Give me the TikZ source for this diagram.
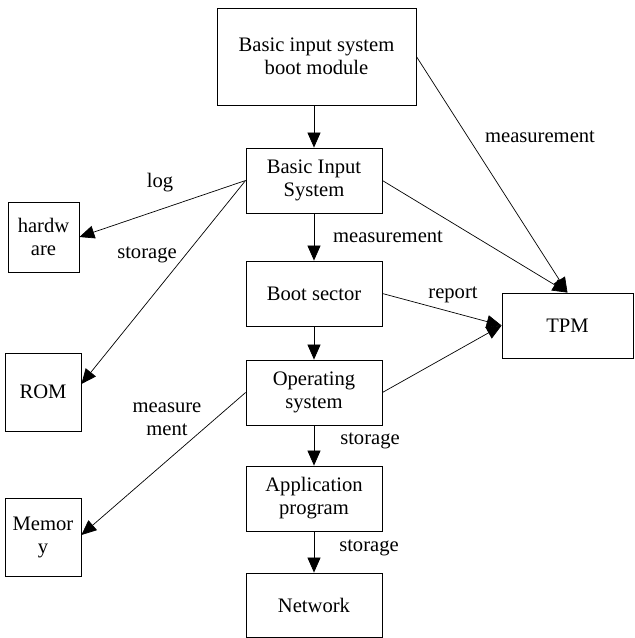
\documentclass[tikz,border=0pt]{standalone}
\usepackage{fontspec}
\setmainfont{Liberation Serif}
\usetikzlibrary{arrows.meta}
\begin{document}
\begin{tikzpicture}[x=1pt,y=-1pt,
  box/.style={draw,line width=0.8pt,inner sep=0pt,align=center,
    font=\fontsize{20.6}{23}\selectfont},
  lbl/.style={inner sep=0pt,font=\fontsize{20.6}{23}\selectfont,align=center},
  arr/.style={line width=0.7pt,-{Triangle[length=15pt,width=13pt]}}]
\useasboundingbox (0,0) rectangle (635,638);
% main chain
\node[box,minimum width=199pt,minimum height=97pt] (mod) at (316.5,56.5) {Basic input system\\boot module};
\node[box,minimum width=136pt,minimum height=65pt] (bis) at (314,180.5) {Basic Input\\System};
\node[box,minimum width=136pt,minimum height=65pt] (boot) at (314,293.5) {Boot sector};
\node[box,minimum width=136pt,minimum height=65pt] (os) at (314,392.5) {Operating\\system};
\node[box,minimum width=136pt,minimum height=65pt] (app) at (314,498.5) {Application\\program};
\node[box,minimum width=136pt,minimum height=64pt] (net) at (314,605) {Network};
% side boxes
\node[box,minimum width=71pt,minimum height=70pt] (hw) at (43.5,237) {hardw\\are};
\node[box,minimum width=76pt,minimum height=78pt] (rom) at (43,392) {ROM};
\node[box,minimum width=76pt,minimum height=78pt] (mem) at (43,537) {Memor\\y};
\node[box,minimum width=131pt,minimum height=65pt] (tpm) at (567.5,325.5) {TPM};
% vertical chain arrows
\draw[arr] (bis.north |- mod.south) -- (bis.north);
\draw[arr] (bis.south) -- (boot.north);
\draw[arr] (boot.south) -- (os.north);
\draw[arr] (os.south) -- (app.north);
\draw[arr] (app.south) -- (net.north);
% arrows into the TPM
\draw[arr] (mod.east) -- (tpm.north);
\draw[arr] (bis.east) -- (tpm.north);
\draw[arr] (boot.east) -- (tpm.west);
\draw[arr] (os.east) -- (tpm.west);
% arrows to the left column
\draw[arr] (bis.west) -- (hw.east);
\draw[arr] (bis.west) -- ([yshift=8pt]rom.east);
\draw[arr] (os.west) -- ([yshift=2pt]mem.east);
% labels
\node[lbl] (l1) at (540,137) {measurement};
\node[lbl] (l2) at (388,237) {measurement};
\node[lbl] (l3) at (453,295) {report};
\node[lbl] (l4) at (160,183) {log};
\node[lbl] (l5) at (147,255) {storage};
\node[lbl] (l6) at (167,419.5) {measure\\ment};
\node[lbl] (l7) at (370,441) {storage};
\node[lbl] (l8) at (369,548) {storage};
\end{tikzpicture}
\end{document}
